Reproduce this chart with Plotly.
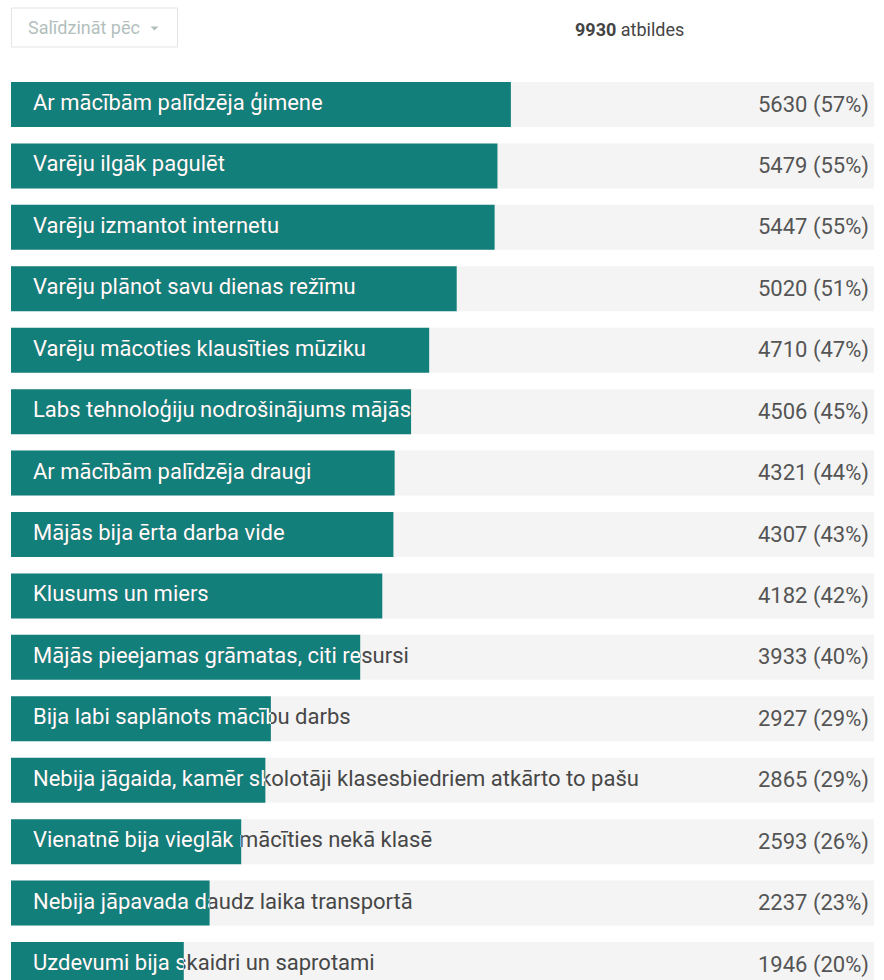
import plotly.graph_objects as go

# ---------------- data ----------------
labels = [
    "Ar mācībām palīdzēja ģimene",
    "Varēju ilgāk pagulēt",
    "Varēju izmantot internetu",
    "Varēju plānot savu dienas režīmu",
    "Varēju mācoties klausīties mūziku",
    "Labs tehnoloģiju nodrošinājums mājās",
    "Ar mācībām palīdzēja draugi",
    "Mājās bija ērta darba vide",
    "Klusums un miers",
    "Mājās pieejamas grāmatas, citi resursi",
    "Bija labi saplānots mācību darbs",
    "Nebija jāgaida, kamēr skolotāji klasesbiedriem atkārto to pašu",
    "Vienatnē bija vieglāk mācīties nekā klasē",
    "Nebija jāpavada daudz laika transportā",
    "Uzdevumi bija skaidri un saprotami",
]
counts = [5630, 5479, 5447, 5020, 4710, 4506, 4321, 4307, 4182, 3933,
          2927, 2865, 2593, 2237, 1946]
total = 9930
header_total_label = "atbildes"
dropdown_label = "Salīdzināt pēc"

# ---------------- layout constants ----------------
W, H = 884, 980
ML, MR, MT, MB = 11, 10, 70, 0
plot_w = W - ML - MR
plot_h = H - MT - MB
X_MAX = 9720          # visible part of the value axis
ROW_TOP = 104.5       # px centre of first row
ROW_PITCH = 61.43     # px between rows
BAR_H = 45            # px bar thickness
LABEL_PAD = 22        # px from bar start to label

TEAL = "#137f7b"
TRACK = "#f4f4f4"
FONT = "Roboto"
FS = 22

n = len(labels)
ys = list(range(n))
y_top = -(ROW_TOP - MT) / ROW_PITCH
y_bot = y_top + plot_h / ROW_PITCH
units_per_px = X_MAX / plot_w
label_x = LABEL_PAD * units_per_px
bar_w = BAR_H / ROW_PITCH


def px_x(px):
    return (px - ML) / plot_w


def px_y(py):
    return 1 - (py - MT) / plot_h


fig = go.Figure()

# track (full total)
fig.add_bar(x=[total] * n, y=ys, orientation="h", width=bar_w,
            marker=dict(color=TRACK, line=dict(width=0)), hoverinfo="skip")
# values
fig.add_bar(x=counts, y=ys, orientation="h", width=bar_w,
            marker=dict(color=TEAL, line=dict(width=0), cornerradius=3),
            hoverinfo="skip")
# dark labels (visible outside the bars)
fig.add_scatter(x=[label_x] * n, y=ys, mode="text", text=labels,
                textposition="middle right",
                textfont=dict(family=FONT, size=FS, color="#474747"),
                cliponaxis=True, hoverinfo="skip")

# white labels clipped to each bar's extent
for i, (lab, c) in enumerate(zip(labels, counts)):
    k = i + 2
    fig.add_scatter(x=[label_x], y=[i], mode="text", text=[lab],
                    textposition="middle right",
                    textfont=dict(family=FONT, size=FS, color="white"),
                    cliponaxis=True, hoverinfo="skip",
                    xaxis=f"x{k}", yaxis="y")
    fig.layout[f"xaxis{k}"] = dict(domain=[0, c / X_MAX], range=[0, c],
                                   visible=False, fixedrange=True,
                                   anchor="y")

# value annotations
for i, c in enumerate(counts):
    pct = round(c / total * 100)
    fig.add_annotation(x=1, xref="x domain", y=i, yref="y",
                       xanchor="right", yanchor="middle", xshift=-3,
                       text=f"{c} ({pct}%)", showarrow=False,
                       font=dict(family=FONT, size=FS, color="#555555"))

# header: response count
fig.add_annotation(x=px_x(573), xref="paper", y=px_y(30), yref="paper",
                   xanchor="left", yanchor="middle", showarrow=False,
                   text=f"<b>{total}</b> {header_total_label}",
                   font=dict(family=FONT, size=18, color="#444444"))

# header: dropdown button
fig.add_shape(type="rect", xref="paper", yref="paper",
              x0=px_x(11.5), x1=px_x(177.5), y0=px_y(8), y1=px_y(47),
              line=dict(color="#e4e4e4", width=1), fillcolor="white")
fig.add_annotation(x=px_x(26), xref="paper", y=px_y(28), yref="paper",
                   xanchor="left", yanchor="middle", showarrow=False,
                   text=dropdown_label,
                   font=dict(family=FONT, size=18, color="#b3bfbd"))
fig.add_shape(type="path", xref="paper", yref="paper",
              path=(f"M {px_x(150.5)} {px_y(26.5)} L {px_x(158.5)} {px_y(26.5)} "
                    f"L {px_x(154.5)} {px_y(30.5)} Z"),
              fillcolor="#b3bfbd", line=dict(width=0))

fig.update_layout(
    width=W, height=H,
    margin=dict(l=ML, r=MR, t=MT, b=MB, pad=0),
    barmode="overlay",
    showlegend=False,
    hovermode=False,
    paper_bgcolor="white",
    plot_bgcolor="rgba(0,0,0,0)",
    xaxis=dict(range=[0, X_MAX], visible=False, fixedrange=True),
    yaxis=dict(range=[y_bot, y_top], visible=False, fixedrange=True),
    font=dict(family=FONT),
)

fig.write_html("out.html", config={"displayModeBar": False},
               post_script="document.body.style.margin='0';document.body.style.overflow='hidden';")
